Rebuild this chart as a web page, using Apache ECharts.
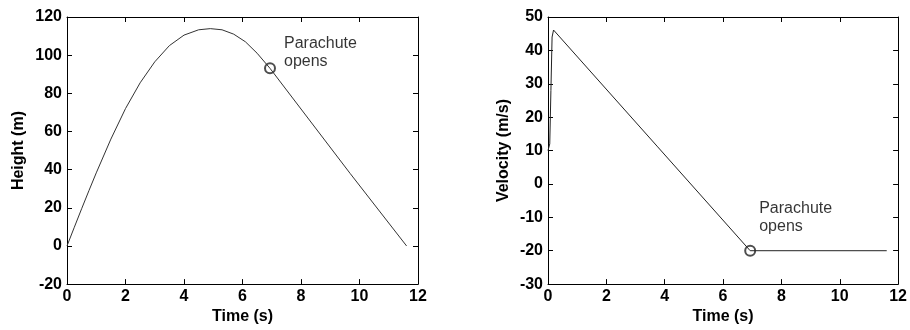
<!DOCTYPE html>
<html>
<head>
<meta charset="utf-8">
<title>Height and velocity</title>
<script src="https://cdn.jsdelivr.net/npm/echarts@6/dist/echarts.min.js"></script>
<style>
  html, body { margin: 0; padding: 0; background: #fff; }
  #chart { width: 910px; height: 330px; }
</style>
</head>
<body>
<div id="chart"></div>
<script type="text/javascript">
// values
var heightTime = [0, 0.25, 0.5, 0.75, 1.0, 1.5, 2.0, 2.5, 3.0, 3.5, 4.0, 4.5, 4.9, 5.3, 5.7, 6.1, 6.5, 6.94, 9.68, 11.61];
var heightVal  = [0, 9.8, 19.5, 29, 38.3, 56, 72, 85.5, 96.5, 105, 110.5, 113.3, 113.9, 113.3, 111, 107, 101, 93.1, 38, 0];

var velTime = [0, 0.06, 0.1, 0.14, 0.19, 3.76, 6.93, 11.61];
var velVal  = [10, 12, 28, 44, 46.1, 11.1, -20, -20];

var chuteHeight = [6.94, 93.1];
var chuteVel = [6.93, -20];
var chuteText = 'Parachute\nopens';

var xTicks = [0, 12, 2];          // min, max, interval
var heightTicks = [-20, 120, 20];
var velTicks = [-30, 50, 10];

function pairs(xs, ys) {
    var out = [];
    for (var i = 0; i < xs.length; i++) {
        out.push([xs[i], ys[i]]);
    }
    return out;
}

var labelFont = { fontFamily: 'Liberation Sans', fontSize: 16, fontWeight: 'bold', color: '#000' };

function makeAxis(ticks, grid, pos, opts) {
    var ax = {
        type: 'value',
        gridIndex: grid,
        position: pos,
        min: ticks[0],
        max: ticks[1],
        interval: ticks[2],
        axisLine: { onZero: false, lineStyle: { color: '#000', width: 1 } },
        axisTick: { inside: true, length: 5, lineStyle: { color: '#000' } },
        splitLine: { show: false },
        axisLabel: { show: false }
    };
    for (var k in opts) ax[k] = opts[k];
    return ax;
}

var xAxes = [], yAxes = [];
[0, 1].forEach(function (g) {
    xAxes.push(makeAxis(xTicks, g, 'bottom', {
        name: 'Time (s)',
        nameLocation: 'middle',
        nameGap: 19,
        nameTextStyle: labelFont,
        axisLabel: { show: true, margin: 4, fontFamily: 'Liberation Sans', fontSize: 16, fontWeight: 'bold', color: '#000' }
    }));
    xAxes.push(makeAxis(xTicks, g, 'top', {}));
});

yAxes.push(makeAxis(heightTicks, 0, 'left', {
    name: 'Height (m)',
    nameLocation: 'middle',
    nameGap: 40,
    nameTextStyle: labelFont,
    axisLabel: { show: true, margin: 5, fontFamily: 'Liberation Sans', fontSize: 16, fontWeight: 'bold', color: '#000' }
}));
yAxes.push(makeAxis(heightTicks, 0, 'right', {}));
yAxes.push(makeAxis(velTicks, 1, 'left', {
    name: 'Velocity (m/s)',
    nameLocation: 'middle',
    nameGap: 36,
    nameTextStyle: labelFont,
    axisLabel: { show: true, margin: 5, fontFamily: 'Liberation Sans', fontSize: 16, fontWeight: 'bold', color: '#000' }
}));
yAxes.push(makeAxis(velTicks, 1, 'right', {}));

function chuteLabel(dist, dy) {
    return {
        show: true,
        position: 'right',
        distance: dist,
        offset: [0, dy],
        formatter: chuteText,
        fontFamily: 'Liberation Sans',
        fontSize: 16,
        lineHeight: 18,
        color: '#000'
    };
}

var chart = echarts.init(document.getElementById('chart'));
var option = {
    animation: false,
    backgroundColor: '#fff',
    grid: [
        { left: 67, top: 17, width: 351, height: 276 },
        { left: 548, top: 17, width: 351, height: 276 }
    ],
    xAxis: xAxes,
    yAxis: yAxes,
    series: [
        {
            type: 'line',
            xAxisIndex: 0, yAxisIndex: 0,
            data: pairs(heightTime, heightVal),
            showSymbol: false,
            lineStyle: { color: '#333', width: 1 }
        },
        {
            type: 'scatter',
            xAxisIndex: 0, yAxisIndex: 0,
            data: [chuteHeight],
            symbol: 'emptyCircle',
            symbolSize: 10,
            itemStyle: { color: '#222', borderWidth: 1 },
            label: chuteLabel(8, -16)
        },
        {
            type: 'line',
            xAxisIndex: 2, yAxisIndex: 2,
            data: pairs(velTime, velVal),
            showSymbol: false,
            lineStyle: { color: '#222', width: 1 }
        },
        {
            type: 'scatter',
            xAxisIndex: 2, yAxisIndex: 2,
            data: [chuteVel],
            symbol: 'emptyCircle',
            symbolSize: 10,
            itemStyle: { color: '#222', borderWidth: 1 },
            label: chuteLabel(3, -33)
        }
    ]
};
chart.setOption(option);
</script>
</body>
</html>
